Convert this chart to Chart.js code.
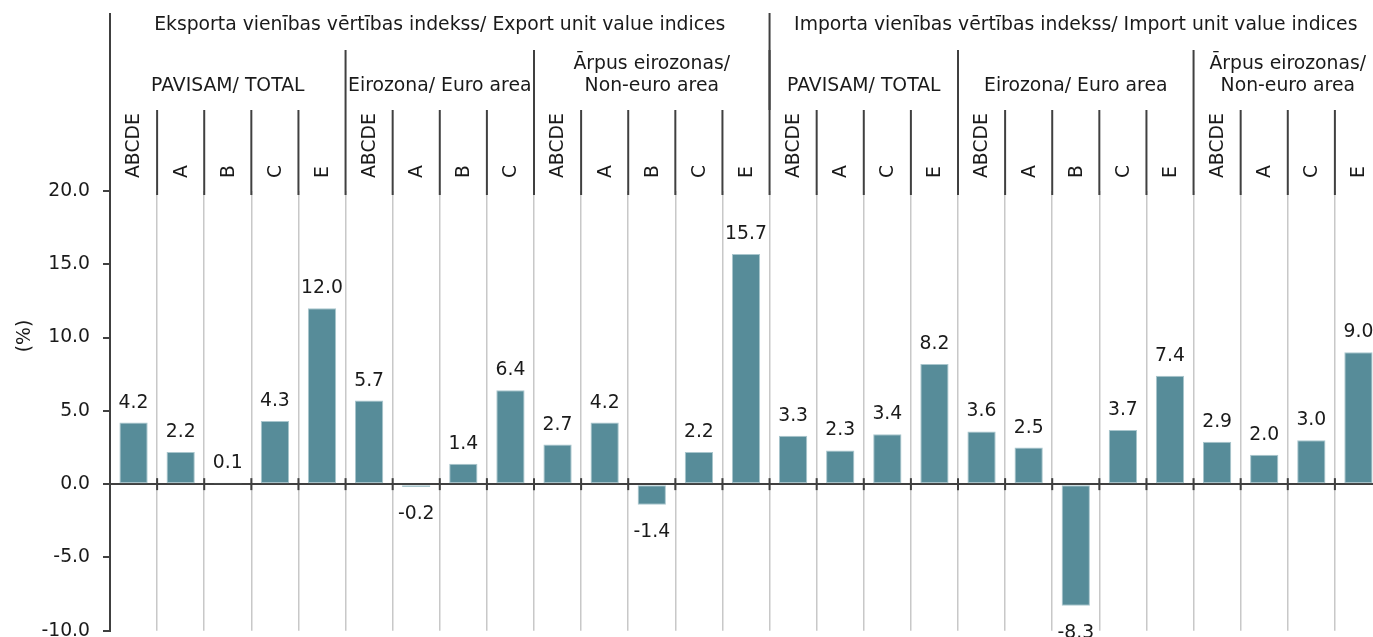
<!DOCTYPE html>
<html>
<head>
<meta charset="utf-8">
<script src="https://cdn.jsdelivr.net/npm/chart.js@4/dist/chart.umd.min.js"></script>
<style>
  html, body { margin: 0; padding: 0; background: #ffffff; overflow: hidden; }
  #wrap { width: 1373px; height: 637px; overflow: hidden; position: relative; }
  canvas { display: block; }
</style>
</head>
<body>
<div id="wrap"><canvas id="c" width="1382" height="655"></canvas></div>
<script>
// ---- Data ----
const categories = ['ABCDE','A','B','C','E', 'ABCDE','A','B','C', 'ABCDE','A','B','C','E',
                    'ABCDE','A','C','E', 'ABCDE','A','B','C','E', 'ABCDE','A','C','E'];
const values = [4.2, 2.2, 0.1, 4.3, 12.0, 5.7, -0.2, 1.4, 6.4, 2.7, 4.2, -1.4, 2.2, 15.7,
                3.3, 2.3, 3.4, 8.2, 3.6, 2.5, -8.3, 3.7, 7.4, 2.9, 2.0, 3.0, 9.0];
const level1Labels = ['Eksporta vienības vērtības indekss/ Export unit value indices',
                      'Importa vienības vērtības indekss/ Import unit value indices'];
const level1Spans = [14, 13];
const level2Labels = [['PAVISAM/ TOTAL'], ['Eirozona/ Euro area'], ['Ārpus eirozonas/', 'Non-euro area'],
                      ['PAVISAM/ TOTAL'], ['Eirozona/ Euro area'], ['Ārpus eirozonas/', 'Non-euro area']];
const level2Spans = [5, 4, 5, 4, 5, 4];
const yTicks = { min: -10, max: 20, step: 5 };
const yTitle = '(%)';

// ---- Styles ----
const FONT = '"DejaVu Sans", Verdana, sans-serif';
const FS = 18.8;
const TXT = '#1a1a1a';
const DARK = '#404040';
const BAR = '#578c99';

const headerPlugin = {
  id: 'header',
  afterDraw(chart) {
    const ctx = chart.ctx;
    const xs = chart.scales.x, ys = chart.scales.y;
    const ca = chart.chartArea;
    const n = categories.length;
    const centers = categories.map((_, i) => xs.getPixelForValue(i));
    const w = n > 1 ? centers[1] - centers[0] : xs.width;
    const edge = k => centers[0] - w / 2 + k * w;
    ctx.save();
    ctx.strokeStyle = DARK;
    ctx.lineWidth = 2;
    const vline = (x, y1, y2) => { ctx.beginPath(); ctx.moveTo(x, y1); ctx.lineTo(x, y2); ctx.stroke(); };
    // category separators in header
    for (let k = 1; k < n; k++) vline(edge(k), 110, ca.top + 4);
    // level-2 separators
    let acc = 0;
    const l2starts = [];
    level2Spans.forEach(s => { l2starts.push(acc); acc += s; });
    l2starts.forEach(k => { if (k > 0) vline(edge(k), 50, 110); });
    // level-1 separators
    acc = 0;
    const l1starts = [];
    level1Spans.forEach(s => { l1starts.push(acc); acc += s; });
    l1starts.forEach(k => vline(edge(k), 13, k === 0 ? ca.top : 110));
    // zero-line ticks
    const y0 = ys.getPixelForValue(0);
    for (let k = 1; k < n; k++) vline(edge(k), y0 - 6, y0 + 6);

    // texts
    ctx.fillStyle = TXT;
    ctx.font = FS + 'px ' + FONT;
    ctx.textAlign = 'center';
    ctx.textBaseline = 'middle';
    l1starts.forEach((k, i) => {
      const cx = (edge(k) + edge(k + level1Spans[i])) / 2;
      ctx.fillText(level1Labels[i], cx, 25);
    });
    l2starts.forEach((k, i) => {
      const cx = (edge(k) + edge(k + level2Spans[i])) / 2;
      const lines = level2Labels[i];
      lines.forEach((t, j) => {
        const y = 86 - (lines.length - 1 - j) * 22;
        ctx.fillText(t, cx, y);
      });
    });
    // y title
    ctx.save();
    ctx.translate(25, 336);
    ctx.rotate(-Math.PI / 2);
    ctx.fillText(yTitle, 0, 0);
    ctx.restore();
    // data labels
    const meta = chart.getDatasetMeta(0);
    ctx.textBaseline = 'alphabetic';
    meta.data.forEach((bar, i) => {
      const v = values[i];
      const txt = v.toFixed(1);
      if (v >= 0) ctx.fillText(txt, bar.x, bar.y - 15);
      else ctx.fillText(txt, bar.x, bar.y + 32);
    });
    ctx.restore();
  }
};

new Chart(document.getElementById('c'), {
  type: 'bar',
  data: {
    labels: categories,
    datasets: [{
      data: values,
      backgroundColor: BAR,
      borderColor: '#a9c6cd',
      borderWidth: 1,
      borderSkipped: false,
      categoryPercentage: 1.0,
      barPercentage: 0.6
    }]
  },
  options: {
    responsive: false,
    animation: false,
    layout: { padding: { top: 110, right: 0, bottom: 8, left: 0 } },
    plugins: { legend: { display: false }, tooltip: { enabled: false } },
    scales: {
      x: {
        type: 'category',
        position: 'top',
        offset: true,
        afterFit: s => { s.height = 81; },
        border: { display: false },
        grid: { offset: true, color: '#c8c8c8', lineWidth: 1.5, drawTicks: false },
        ticks: {
          autoSkip: false, minRotation: 90, maxRotation: 90, padding: 13,
          labelOffset: FS * 1.2 + 1,
          color: TXT, font: { family: FONT, size: FS }
        }
      },
      y: {
        min: yTicks.min, max: yTicks.max,
        afterFit: s => { s.width = 110; },
        border: { display: true, color: DARK, width: 2 },
        grid: {
          drawOnChartArea: true,
          color: c => (c.tick && c.tick.value === 0) ? DARK : 'rgba(0,0,0,0)',
          lineWidth: 2,
          tickColor: DARK,
          tickLength: 7
        },
        ticks: {
          stepSize: yTicks.step,
          padding: 13,
          color: TXT,
          font: { family: FONT, size: FS },
          callback: v => Number(v).toFixed(1)
        }
      }
    }
  },
  plugins: [headerPlugin]
});
</script>
</body>
</html>
